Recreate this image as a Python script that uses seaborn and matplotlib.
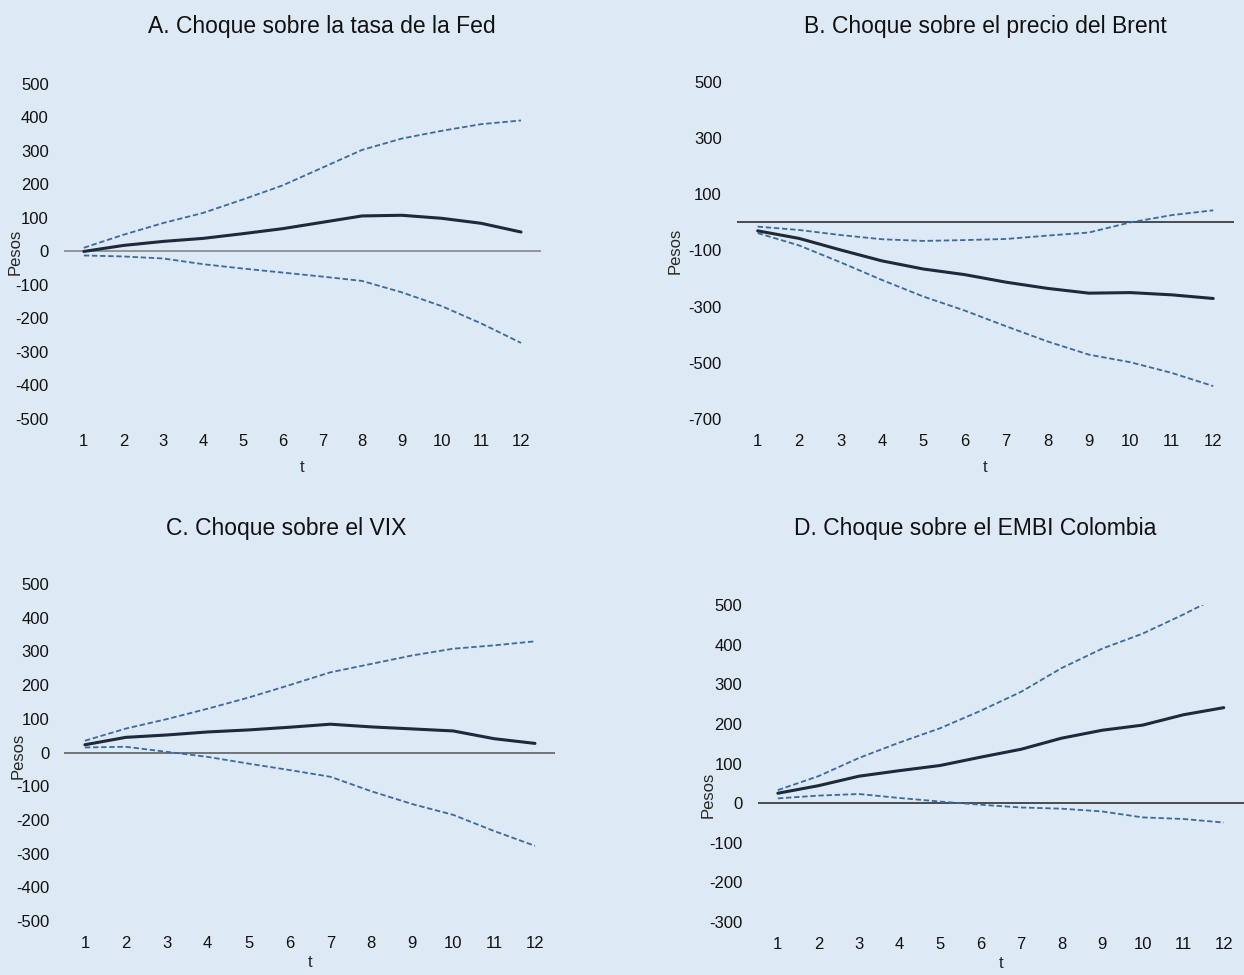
import seaborn as sns
import pandas as pd
import matplotlib.pyplot as plt

# datos
t = list(range(1, 13))

fed_central = [0, 18, 30, 39, 53, 68, 87, 106, 108, 99, 84, 58]
fed_upper = [11, 50, 85, 115, 155, 197, 250, 303, 337, 360, 380, 391]
fed_lower = [-12, -15, -21, -38, -51, -63, -75, -88, -122, -163, -215, -273]

brent_central = [-30, -57, -98, -137, -166, -186, -213, -235, -252, -250, -258, -271]
brent_upper = [-15, -27, -45, -60, -66, -63, -59, -47, -36, 0, 26, 43]
brent_lower = [-38, -82, -142, -205, -264, -314, -370, -424, -471, -498, -536, -583]

vix_central = [23, 45, 52, 61, 67, 75, 84, 76, 70, 64, 41, 27]
vix_upper = [35, 71, 99, 130, 163, 200, 238, 263, 288, 308, 318, 330]
vix_lower = [15, 17, 2, -13, -33, -52, -72, -115, -153, -185, -233, -277]

embi_central = [25, 44, 68, 82, 95, 116, 136, 164, 184, 197, 223, 241]
embi_upper = [33, 68, 114, 153, 189, 233, 281, 341, 390, 428, 476, 528]
embi_lower = [12, 19, 23, 13, 4, -4, -11, -14, -21, -36, -40, -49]

titles = ["A. Choque sobre la tasa de la Fed", "B. Choque sobre el precio del Brent",
          "C. Choque sobre el VIX", "D. Choque sobre el EMBI Colombia"]

bg = "#DDE9F5"
sns.set_theme(style="white")
plt.rcParams['font.family'] = ['Liberation Sans', 'DejaVu Sans']
plt.rcParams['axes.unicode_minus'] = False

fig = plt.figure(figsize=(12.44, 9.75), dpi=100, facecolor=bg)

panels = [
    (fed_central, fed_upper, fed_lower, [0.0514, 0.5703, 0.3834, 0.3436],
     (-500, 500), list(range(-500, 501, 100)), "#7f7f7f", (-0.086, 0.5), (322, 26), 8),
    (brent_central, brent_upper, brent_lower, [0.5924, 0.5703, 0.3995, 0.3456],
     (-700, 500), list(range(-700, 501, 200)), "#222222", (-0.109, 0.5), (985, 26), 8),
    (vix_central, vix_upper, vix_lower, [0.0518, 0.0554, 0.3947, 0.3456],
     (-500, 500), list(range(-500, 501, 100)), "#555555", (-0.080, 0.49), (286, 528), 3),
    (embi_central, embi_upper, embi_lower, [0.609, 0.0544, 0.391, 0.325],
     (-300, 500), list(range(-300, 501, 100)), "#222222", (-0.086, 0.40), (975, 528), 3),
]

for i, (c, u, l, pos, ylim, yt, zc, ylab, tpos, xpad) in enumerate(panels):
    ax = fig.add_axes(pos)
    ax.set_facecolor(bg)
    ax.axhline(0, color=zc, linewidth=1.1, zorder=1)
    sns.lineplot(x=t, y=u, ax=ax, color="#3A6A9E", linewidth=1.3, linestyle=(0, (3, 1.5)))
    sns.lineplot(x=t, y=l, ax=ax, color="#3A6A9E", linewidth=1.3, linestyle=(0, (3, 1.5)))
    sns.lineplot(x=t, y=c, ax=ax, color="#1E2A3A", linewidth=2.2)
    ax.set_xlim(0.5, 12.5)
    ax.set_ylim(*ylim)
    ax.set_xticks(t)
    ax.set_yticks(yt)
    ax.tick_params(axis='both', length=0, labelsize=12, colors="#111111")
    ax.tick_params(axis='y', pad=11)
    ax.tick_params(axis='x', pad=11)
    for s in ax.spines.values():
        s.set_visible(False)
    ax.set_xlabel("t", fontsize=12, labelpad=xpad)
    ax.set_ylabel("Pesos", fontsize=12)
    ax.yaxis.set_label_coords(*ylab)
    fig.text(tpos[0] / 1244, 1 - tpos[1] / 975, titles[i], ha='center', va='center',
             fontsize=16.5, color="#111111")

fig.savefig("out.png", dpi=100, facecolor=bg)
